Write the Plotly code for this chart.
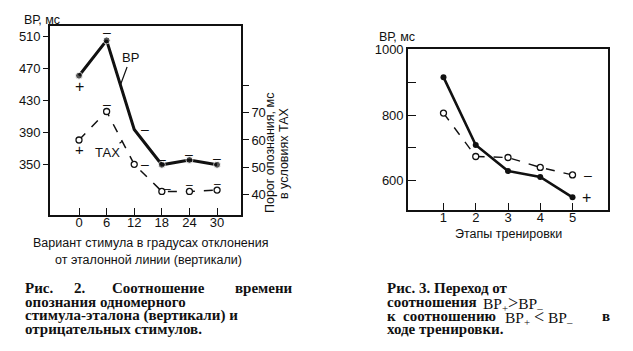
import plotly.graph_objects as go

W, H = 633, 351

# ---- data: figure 2 ----
deg = [0, 6, 12, 18, 24, 30]
deg_labels = ["0", "6", "12", "18", "24", "30"]
bp_ms = [461, 505, 394, 350, 356, 350]
bp_marker = [7, 7, 0, 7, 7, 7]
tax_ms = [60, 70.5, 51, 41, 41, 41.5]
bp_ticks = [350, 390, 430, 470, 510]
tax_ticks = [40, 50, 60, 70, 80]
tax_ticktext = ["40", "50", "60", "70", " "]

# ---- data: figure 3 ----
stage = [1, 2, 3, 4, 5]
bp_plus = [915, 709, 630, 612, 550]
bp_minus = [806, 674, 671, 641, 618]
rt_ticks = [600, 700, 800, 900, 1000]
rt_ticktext = ["600", " ", "800", " ", "1000"]


def fx(px):
    return px / W


def fy(py):
    return 1 - py / H


FONT = "Liberation Sans"
SERIF = "Liberation Serif"
ink = "#111111"

fig = go.Figure()

fig.add_trace(go.Scatter(x=deg, y=bp_ms, mode="lines+markers", xaxis="x", yaxis="y",
                         line=dict(color=ink, width=3),
                         marker=dict(size=bp_marker, color=ink), showlegend=False))
fig.add_trace(go.Scatter(x=deg, y=tax_ms, mode="lines+markers", xaxis="x", yaxis="y2",
                         line=dict(color=ink, width=1.5, dash="dash"),
                         marker=dict(size=6, color="white", line=dict(color=ink, width=1.3)),
                         showlegend=False))
fig.add_trace(go.Scatter(x=stage, y=bp_plus, mode="lines+markers", xaxis="x3", yaxis="y3",
                         line=dict(color=ink, width=2.6),
                         marker=dict(size=6, color=ink), showlegend=False))
fig.add_trace(go.Scatter(x=stage, y=bp_minus, mode="lines+markers", xaxis="x3", yaxis="y3",
                         line=dict(color=ink, width=1.4, dash="dash"),
                         marker=dict(size=6, color="white", line=dict(color=ink, width=1.3)),
                         showlegend=False))

axis_common = dict(showline=True, linecolor=ink, linewidth=1.6, showgrid=False, zeroline=False,
                   tickcolor=ink, tickwidth=1.4, tickfont=dict(family=FONT, size=13, color=ink))

fig.update_layout(
    width=W, height=H,
    margin=dict(l=0, r=0, t=0, b=0),
    paper_bgcolor="white", plot_bgcolor="white",
    xaxis=dict(domain=[fx(50), fx(241)], range=[-6.3, 35.2], anchor="y",
               tickvals=deg, ticktext=deg_labels, ticks="inside", ticklen=7,
               ticklabelstandoff=-5, mirror=True, **axis_common),
    yaxis=dict(domain=[fy(212), fy(19)], range=[287.7, 523.4], anchor="x",
               tickvals=bp_ticks, ticks="outside", ticklen=5, mirror=True, **axis_common),
    yaxis2=dict(domain=[fy(212), fy(19)], range=[32.4, 102.2], overlaying="y", side="right",
                anchor="x", tickvals=tax_ticks, ticktext=tax_ticktext, ticks="outside",
                ticklen=6, **axis_common),
    xaxis3=dict(domain=[fx(408), fx(608)], range=[-0.1, 6.1], anchor="y3",
                tickvals=stage, ticks="inside", ticklen=7, ticklabelstandoff=-5,
                mirror=True, **axis_common),
    yaxis3=dict(domain=[fy(207), fy(43)], range=[512, 1000], anchor="x3",
                tickvals=rt_ticks, ticktext=rt_ticktext, ticks="inside", ticklen=8,
                mirror=True, **axis_common),
)

ann = []


def txt(x, y, t, size=12, xanchor="center", yanchor="middle", font=FONT, angle=0, **kw):
    ann.append(dict(x=fx(x), y=fy(y), xref="paper", yref="paper", text=t, showarrow=False,
                    xanchor=xanchor, yanchor=yanchor, textangle=angle,
                    font=dict(family=font, size=size, color=ink), **kw))


# axis titles fig 2
txt(22, 13, "ВР, мс", size=12.5, xanchor="left")
txt(150, 241, "Вариант стимула в градусах отклонения", size=12.5)
txt(148, 258, "от эталонной линии (вертикали)", size=12.5)
txt(270, 149, "Порог опознания, мс", size=12.5, angle=-90)
txt(284, 149, "в условиях ТАХ", size=12.5, angle=-90)

# axis titles fig 3
txt(377, 31, "ВР, мс", size=12.5, xanchor="left")
txt(508, 232, "Этапы тренировки", size=12.5)


# point marks (+ / –) attached to data points
def mark(x, y, t, xa, ya, dx=0, dy=0, size=14):
    ann.append(dict(x=x, y=y, xref=xa, yref=ya, text=t, showarrow=False, xshift=dx, yshift=dy,
                    font=dict(family=FONT, size=size, color=ink)))


mark(deg[0], bp_ms[0], "+", "x", "y", dy=-11, size=16)
mark(deg[1], bp_ms[1], "–", "x", "y", dy=8)
mark(deg[2], bp_ms[2], "–", "x", "y", dx=11)
mark(deg[3], bp_ms[3], "–", "x", "y", dy=6)
mark(deg[4], bp_ms[4], "–", "x", "y", dy=6)
mark(deg[5], bp_ms[5], "–", "x", "y", dy=7)
mark(deg[0], tax_ms[0], "+", "x", "y2", dy=-10, size=15)
mark(deg[1], tax_ms[1], "–", "x", "y2", dy=8)
mark(deg[2], tax_ms[2], "–", "x", "y2", dx=11, dy=0)
mark(deg[3], tax_ms[3], "–", "x", "y2", dx=6, dy=2, size=12)
mark(deg[4], tax_ms[4], "–", "x", "y2", dy=6, size=12)
mark(deg[5], tax_ms[5], "–", "x", "y2", dy=6, size=12)
mark(stage[4], bp_minus[4], "–", "x3", "y3", dx=15)
mark(stage[4], bp_plus[4], "+", "x3", "y3", dx=14, size=16)

# series labels with leader lines
ann.append(dict(x=9.0, y=449.5, xref="x", yref="y", text="ВР", showarrow=True, arrowhead=0,
                arrowwidth=1.2, arrowcolor=ink, ax=10, ay=-27, xanchor="center", yanchor="middle",
                font=dict(family=FONT, size=13, color=ink)))
ann.append(dict(x=9.4, y=59.5, xref="x", yref="y2", text="ТАХ", showarrow=True, arrowhead=0,
                arrowwidth=1.2, arrowcolor=ink, ax=-15, ay=11, xanchor="center", yanchor="middle",
                font=dict(family=FONT, size=13, color=ink)))

# captions
CS = 15
big = '<span style="font-size:18px">%s</span>'
txt(23, 287, "<b>Рис.</b>", size=CS, xanchor="left", font=SERIF)
txt(72, 287, "<b>2.</b>", size=CS, xanchor="left", font=SERIF)
txt(110, 287, "<b>Соотношение</b>", size=CS, xanchor="left", font=SERIF)
txt(295, 287, "<b>времени</b>", size=CS, xanchor="right", font=SERIF)
txt(23, 301, "<b>опознания одномерного</b>", size=CS, xanchor="left", font=SERIF)
txt(23, 315, "<b>стимула-эталона (вертикали) и</b>", size=CS, xanchor="left", font=SERIF)
txt(23, 329, "<b>отрицательных стимулов.</b>", size=CS, xanchor="left", font=SERIF)

txt(385, 287, "<b>Рис. 3. Переход от</b>", size=CS, xanchor="left", font=SERIF)
txt(385, 301, "<b>соотношения</b>", size=CS, xanchor="left", font=SERIF)
txt(481, 303, "ВР<sub>+</sub>" + big % "&gt;" + "ВР<sub>–</sub>",
    size=15.5, xanchor="left", font=SERIF)
txt(385, 315, "<b>к</b>", size=CS, xanchor="left", font=SERIF)
txt(401, 315, "<b>соотношению</b>", size=CS, xanchor="left", font=SERIF)
txt(503, 317, "ВР<sub>+</sub> " + big % "&lt;" + " ВР<sub>–</sub>",
    size=15.5, xanchor="left", font=SERIF)
txt(612, 315, "<b>в</b>", size=CS, xanchor="right", font=SERIF)
txt(385, 329, "<b>ходе тренировки.</b>", size=CS, xanchor="left", font=SERIF)

fig.update_layout(annotations=ann)
fig.write_html("out.html")
